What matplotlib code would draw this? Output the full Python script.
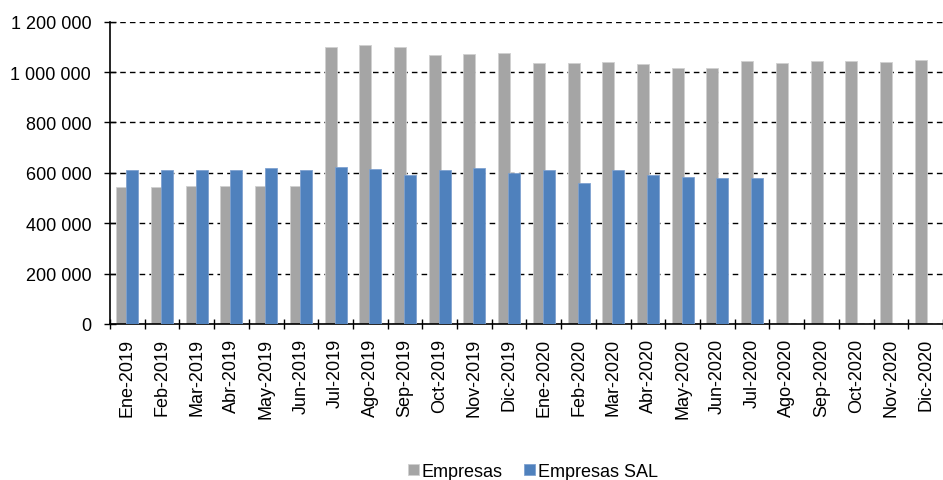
import matplotlib
matplotlib.use("Agg")
import matplotlib.pyplot as plt
import numpy as np
from matplotlib.ticker import FuncFormatter, MultipleLocator, FixedLocator

plt.rcParams['font.family'] = ['Liberation Sans', 'DejaVu Sans']

categories = ["Ene-2019", "Feb-2019", "Mar-2019", "Abr-2019", "May-2019", "Jun-2019",
              "Jul-2019", "Ago-2019", "Sep-2019", "Oct-2019", "Nov-2019", "Dic-2019",
              "Ene-2020", "Feb-2020", "Mar-2020", "Abr-2020", "May-2020", "Jun-2020",
              "Jul-2020", "Ago-2020", "Sep-2020", "Oct-2020", "Nov-2020", "Dic-2020"]
empresas = [545000, 542000, 548000, 548000, 547000, 547000,
            1098000, 1108000, 1100000, 1067000, 1073000, 1077000,
            1037000, 1037000, 1042000, 1033000, 1017000, 1017000,
            1045000, 1037000, 1045000, 1045000, 1042000, 1047000]
empresas_sal = [611000, 613000, 613000, 611000, 618000, 613000,
                624000, 616000, 593000, 611000, 618000, 600000,
                611000, 558000, 611000, 593000, 584000, 579000,
                579000]

fig = plt.figure(figsize=(9.43, 4.81), dpi=100)
ax = fig.add_axes([110/943, 1 - 325/481, 1 - 110/943, (325 - 22.7)/481])

x = np.arange(len(categories))
w = 0.346
off = 0.144
ax.bar(x - off, empresas, width=w, color="#A5A5A5", label="Empresas", zorder=2,
       edgecolor="#D0D0D0", linewidth=0.6)
xs = np.arange(len(empresas_sal))
ax.bar(xs + off, empresas_sal, width=w, color="#4F81BD", label="Empresas SAL", zorder=3,
       edgecolor="#7FA2D0", linewidth=0.6)

ax.set_xlim(-0.5, len(categories) - 0.5)
ax.set_ylim(0, 1200000)
ax.yaxis.set_major_locator(MultipleLocator(200000))
ax.yaxis.set_major_formatter(FuncFormatter(lambda v, p: f"{int(v):,}".replace(",", " ")))
ax.grid(axis='y', color='black', linestyle=(0, (4, 3)), linewidth=1.0, zorder=1)
ax.set_axisbelow(True)

ax.set_xticks(x)
ax.set_xticklabels(categories, rotation=90, fontsize=13)
ax.tick_params(axis='x', length=0, pad=10)
ax.xaxis.set_minor_locator(FixedLocator(np.arange(-0.5, len(categories), 1.0)))
ax.tick_params(axis='x', which='minor', length=7, direction='inout', width=1)
ax.tick_params(axis='y', labelsize=13, length=8, direction='inout', width=1, pad=9.5)

for s in ['top', 'right']:
    ax.spines[s].set_visible(False)
ax.spines['left'].set_color('black')
ax.spines['bottom'].set_color('black')
ax.spines['left'].set_linewidth(1.2)
ax.spines['bottom'].set_linewidth(1.2)

handles, labels = ax.get_legend_handles_labels()
fig.legend(handles, labels, loc='center', bbox_to_anchor=(0.565, 0.018), ncol=2,
           frameon=False, fontsize=13, handlelength=0.6, handleheight=0.6,
           handletextpad=0.15, columnspacing=1.2)

fig.savefig("out.png", dpi=100)
